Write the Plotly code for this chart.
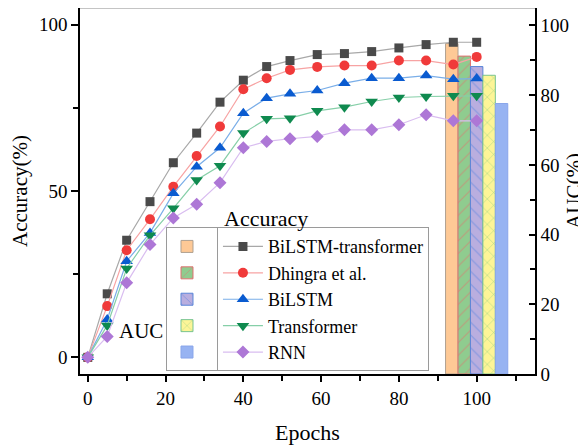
import plotly.graph_objects as go

# ---- data ----
epochs = [0, 5, 10, 16, 22, 28, 34, 40, 46, 52, 59, 66, 73, 80, 87, 94, 100]
acc_bilstm_transformer = [0, 19.1, 35.2, 46.8, 58.5, 67.4, 76.7, 83.3, 87.4, 89.2, 91.0, 91.3, 91.9, 93.0, 94.0, 94.7, 94.7]
acc_dhingra = [0, 15.4, 32.2, 41.5, 51.3, 60.5, 69.4, 80.6, 83.9, 86.4, 87.3, 87.7, 87.7, 89.2, 89.2, 88.0, 90.3]
acc_bilstm = [0, 11.4, 28.9, 37.4, 49.3, 57.3, 63.0, 73.4, 77.9, 79.2, 80.2, 82.4, 83.9, 83.9, 84.7, 83.6, 83.8]
acc_transformer = [0, 9.6, 26.7, 36.7, 44.8, 53.3, 57.6, 67.4, 71.7, 71.9, 74.1, 75.2, 76.9, 78.1, 78.4, 78.6, 78.6]
acc_rnn = [0, 6.3, 22.4, 33.9, 41.9, 46.0, 52.5, 63.0, 64.9, 65.7, 66.4, 68.4, 68.4, 69.9, 72.9, 71.1, 71.1]

models = ["BiLSTM-transformer", "Dhingra et al.", "BiLSTM", "Transformer", "RNN"]
auc_values = [94.8, 91.2, 88.2, 85.7, 77.6]
bar_centers = [93.6, 96.8, 100.0, 103.2, 106.4]

x_ticks = [0, 20, 40, 60, 80, 100]
acc_ticks = [0, 50, 100]
auc_ticks = [0, 20, 40, 60, 80, 100]

# ---- styles ----
FONT = "Liberation Serif, Times New Roman, serif"
acc_series = [acc_bilstm_transformer, acc_dhingra, acc_bilstm, acc_transformer, acc_rnn]
marker_colors = ["#4a4a4a", "#f03a3a", "#0a5bd0", "#0f8a4f", "#ad77d6"]
line_colors = ["#a8a8a8", "#f7a3a3", "#7aaee8", "#86cfa8", "#d9bdf0"]
symbols = ["square", "circle", "triangle-up", "triangle-down", "diamond"]
sizes = [9, 10, 11, 11, 10]

bar_fill = ["#fec996", "#8fcc8f", "#b9aedf", "#fdf597", "#97b3f2"]
bar_line = ["#b0a090", "#e07070", "#5a86d8", "#78c490", "#8aa6ea"]
bar_pattern = ["", "/", "\\", "x", ""]
bar_pat_color = ["#fec996", "#e86a6a", "#4a7fe0", "#58b878", "#97b3f2"]

fig = go.Figure()

for i, m in enumerate(models):
    fig.add_trace(go.Bar(
        x=[bar_centers[i]], y=[auc_values[i]], width=3.2,
        name=" ", legend="legend2", yaxis="y", xaxis="x",
        marker=dict(color=bar_fill[i], line=dict(color=bar_line[i], width=1),
                    pattern=dict(shape=bar_pattern[i], fgcolor=bar_pat_color[i],
                                 size=9, solidity=0.12)),
        hoverinfo="skip", showlegend=True,
    ))

for i, m in enumerate(models):
    fig.add_trace(go.Scatter(
        x=epochs, y=acc_series[i], name=m, legend="legend",
        yaxis="y2", xaxis="x", mode="lines+markers",
        line=dict(color=line_colors[i], width=1.2),
        marker=dict(symbol=symbols[i], size=sizes[i], color=marker_colors[i],
                    line=dict(width=0)),
    ))

axis_common = dict(showgrid=False, zeroline=False, showline=True, linecolor="black",
                   linewidth=1.5, tickcolor="black", tickwidth=1.5, automargin=False,
                   tickfont=dict(family=FONT, size=19, color="black"))

# the page body adds an 8px offset, so the figure is 8px smaller and margins shifted
fig.update_layout(
    width=578, height=438,
    margin=dict(l=72, r=51, t=0, b=72, autoexpand=False),
    paper_bgcolor="white", plot_bgcolor="white",
    barmode="overlay",
    font=dict(family=FONT, color="black"),
    xaxis=dict(range=[-2, 115], tickvals=x_ticks, ticks="outside", ticklen=6,
               minor=dict(tickvals=[10, 30, 50, 70, 90, 110], ticks="outside",
                          ticklen=5, tickcolor="black", tickwidth=1.5),
               title=dict(text="Epochs", font=dict(family=FONT, size=22), standoff=17),
               **axis_common),
    yaxis=dict(range=[0, 105], side="right", tickvals=auc_ticks, ticks="inside", ticklen=6,
               minor=dict(tickvals=[10, 30, 50, 70, 90], ticks="inside",
                          ticklen=5, tickcolor="black", tickwidth=1.5),
               title=dict(text="AUC(%)", font=dict(family=FONT, size=21), standoff=2),
               **axis_common),
    yaxis2=dict(range=[-5, 105], side="left", overlaying="y", anchor="x",
                tickvals=acc_ticks, ticks="outside", ticklen=7,
                minor=dict(tickvals=[25, 75], ticks="outside",
                           ticklen=5, tickcolor="black", tickwidth=1.5),
                title=dict(text="Accuracy(%)", font=dict(family=FONT, size=21), standoff=10),
                **axis_common),
    legend=dict(x=0.301, y=0.401, xanchor="left", yanchor="top",
                bgcolor="white", bordercolor="#9a9a9a", borderwidth=1,
                font=dict(family=FONT, size=18, color="black"),
                itemwidth=40, tracegroupgap=0, itemclick=False),
    legend2=dict(x=0.189, y=0.401, xanchor="left", yanchor="top",
                 bgcolor="white", bordercolor="#9a9a9a", borderwidth=1,
                 font=dict(family=FONT, size=18, color="black"),
                 tracegroupgap=0, itemclick=False),
    showlegend=True,
    annotations=[
        dict(text="Accuracy", x=266, y=218, xref="paper", yref="paper", showarrow=False,
             xanchor="center", font=dict(family=FONT, size=22, color="black")),
        dict(text="AUC", x=165, y=345, xref="paper", yref="paper", showarrow=False,
             xanchor="right", font=dict(family=FONT, size=21, color="black")),
    ],
    shapes=[dict(type="line", xref="paper", yref="paper", x0=0, x1=1, y0=1, y1=1,
                 line=dict(color="#8a8a8a", width=1))],
)

# convert annotation positions (reference-picture pixels) into paper coordinates
pl, pr, pt, pb = 80, 535, 8, 374
for a in fig.layout.annotations:
    a.x = (a.x - pl) / (pr - pl)
    a.y = (pb - a.y) / (pb - pt)

fig.write_html("out.html")
